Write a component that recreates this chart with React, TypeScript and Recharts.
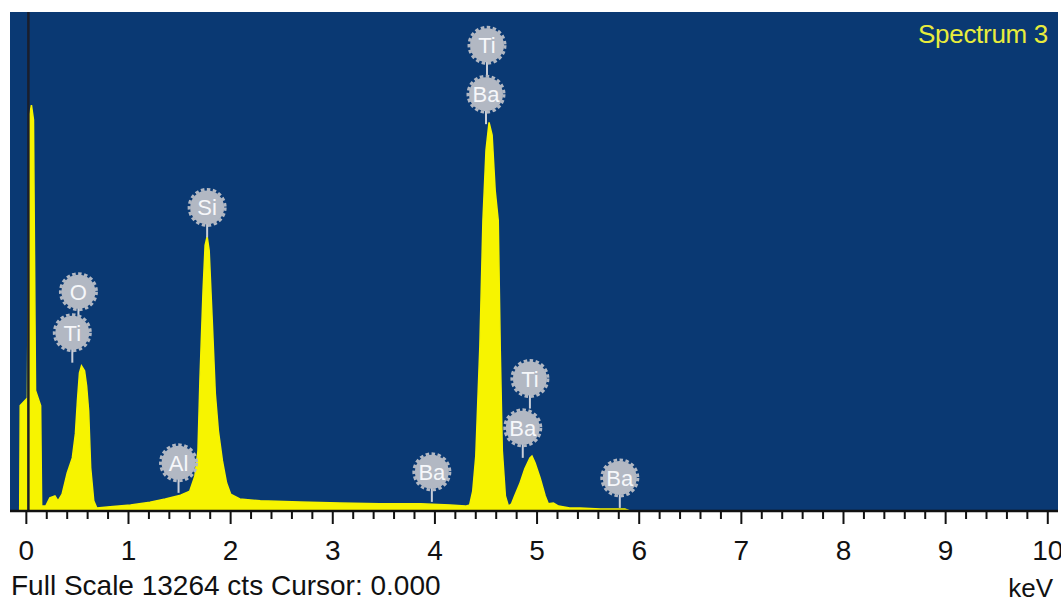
import React from 'react';
import { ComposedChart, Area, XAxis, YAxis, Scatter, ReferenceArea, ReferenceLine } from 'recharts';

const FULL_SCALE = 13264;
const SPECTRUM_NAME = 'Spectrum 3';
const CURSOR_KEV = 0.02;

// energy (keV) and counts
const ENERGY = [
  -0.065, -0.06, 0.01, 0.03, 0.05, 0.07, 0.09, 0.14, 0.15, 0.19,
  0.23, 0.28, 0.31, 0.35, 0.40, 0.45, 0.48, 0.50, 0.52, 0.54,
  0.57, 0.59, 0.61, 0.63, 0.66, 0.69, 0.82, 1.02, 1.21, 1.36,
  1.51, 1.60, 1.65, 1.68, 1.70, 1.73, 1.75, 1.77, 1.79, 1.82,
  1.85, 1.88, 1.92, 1.96, 2.00, 2.09, 2.29, 2.68, 3.07, 3.46,
  3.86, 4.15, 4.30, 4.34, 4.37, 4.40, 4.42, 4.44, 4.47, 4.50,
  4.53, 4.56, 4.59, 4.62, 4.64, 4.66, 4.69, 4.72, 4.75, 4.78,
  4.83, 4.88, 4.93, 4.95, 4.98, 5.03, 5.08, 5.11, 5.16, 5.21,
  5.32, 5.42, 5.62, 5.86, 5.91, 10.1,
];
const COUNTS = [
  0, 2800, 3000, 10500, 10790, 10400, 3200, 2800, 130, 130,
  350, 400, 270, 450, 1010, 1410, 2050, 2930, 3670, 3860,
  3730, 3330, 2660, 1150, 270, 80, 110, 160, 230, 320,
  420, 530, 930, 1600, 3540, 5860, 7060, 7300, 6920, 5060,
  3120, 2130, 1330, 750, 450, 320, 270, 240, 210, 190,
  190, 160, 130, 160, 530, 1460, 2930, 4390, 7720, 9590,
  10330, 9990, 8520, 7720, 4260, 1600, 400, 130, 190, 400,
  720, 1120, 1410, 1460, 1280, 880, 400, 190, 210, 130,
  80, 80, 50, 50, 0, 0,
];

// element markers: name, energy, marker centre height in counts
const BADGE_ELEMENTS = ['O', 'Ti', 'Al', 'Si', 'Ti', 'Ba', 'Ti', 'Ba', 'Ba', 'Ba'];
const BADGE_KEV = [0.51, 0.45, 1.49, 1.77, 4.51, 4.50, 4.93, 4.86, 3.97, 5.81];
const BADGE_CTS = [5830, 4740, 1280, 8070, 12380, 11080, 3520, 2210, 1040, 880];

const TICK_LABELS = ['0', '1', '2', '3', '4', '5', '6', '7', '8', '9', '10'];
const TICKS: number[] = [];
for (let i = 0; i <= 50; i++) TICKS.push(i / 5);

const spectrum = ENERGY.map((kev, i) => ({ kev, cts: COUNTS[i] }));
const badges = BADGE_ELEMENTS.map((el, i) => ({ el, kev: BADGE_KEV[i], cts: BADGE_CTS[i] }));

const FONT = '"Liberation Sans", Arial, sans-serif';
const BG = '#0a3973';
const YELLOW = '#f7f400';

function KevTick({ x, y, payload }: any) {
  const v = payload.value;
  const major = Math.abs(v - Math.round(v)) < 1e-6;
  return (
    <g>
      <line x1={x} x2={x} y1={y} y2={y + (major ? 13 : 8)} stroke="#111" strokeWidth={2} />
      {major && (
        <text x={x} y={y + 49} textAnchor="middle" fontSize={28} fill="#111" fontFamily={FONT}>
          {TICK_LABELS[Math.round(v)]}
        </text>
      )}
    </g>
  );
}

function ElementBadge({ cx, cy, payload }: any) {
  return (
    <g>
      <line x1={cx} x2={cx} y1={cy} y2={cy + 30} stroke="#c9ced8" strokeWidth={2} />
      <circle cx={cx} cy={cy} r={17} fill="#b2b8c3" />
      <circle cx={cx} cy={cy} r={18} fill="none" stroke="#b2b8c3" strokeWidth={3} strokeDasharray="3.5 2.5" />
      <text x={cx} y={cy + 8} textAnchor="middle" fontSize={22} fill="#f6f7fa" fontFamily={FONT}>
        {payload.el}
      </text>
    </g>
  );
}

export default function App() {
  return (
    <div style={{ position: 'absolute', left: 0, top: 0, width: 1061, height: 605, background: '#fff' }}>
      <ComposedChart width={1061} height={605} data={spectrum} margin={{ top: 12, right: 3, left: 10, bottom: 0 }}>
        <XAxis
          type="number"
          dataKey="kev"
          domain={[-0.16, 10.1]}
          ticks={TICKS}
          interval={0}
          tickSize={0}
          tickMargin={0}
          height={94}
          tick={<KevTick />}
          axisLine={{ stroke: '#111', strokeWidth: 2.5 }}
          allowDataOverflow
        />
        <YAxis type="number" hide domain={[0, FULL_SCALE]} allowDataOverflow />
        <ReferenceArea x1={-0.16} x2={10.1} y1={0} y2={FULL_SCALE} fill={BG} fillOpacity={1} stroke="none" />
        <Area
          type="linear"
          dataKey="cts"
          stroke={YELLOW}
          strokeWidth={1.5}
          fill={YELLOW}
          fillOpacity={1}
          isAnimationActive={false}
        />
        <ReferenceLine x={CURSOR_KEV} stroke="#1a1e2c" strokeWidth={2.5} />
        <Scatter data={badges} dataKey="cts" shape={<ElementBadge />} isAnimationActive={false} />
      </ComposedChart>
      <svg width={1061} height={605} style={{ position: 'absolute', left: 0, top: 0, pointerEvents: 'none' }}>
        <text x={1048} y={43} textAnchor="end" fontSize={26} fill="#e8ec3c" fontFamily={FONT} letterSpacing={-0.3}>
          {SPECTRUM_NAME}
        </text>
        <text x={11} y={595} fontSize={28} fill="#111" fontFamily={FONT}>
          {`Full Scale ${FULL_SCALE} cts Cursor: 0.000`}
        </text>
        <text x={1053} y={597} textAnchor="end" fontSize={26} fill="#111" fontFamily={FONT}>
          keV
        </text>
      </svg>
    </div>
  );
}
